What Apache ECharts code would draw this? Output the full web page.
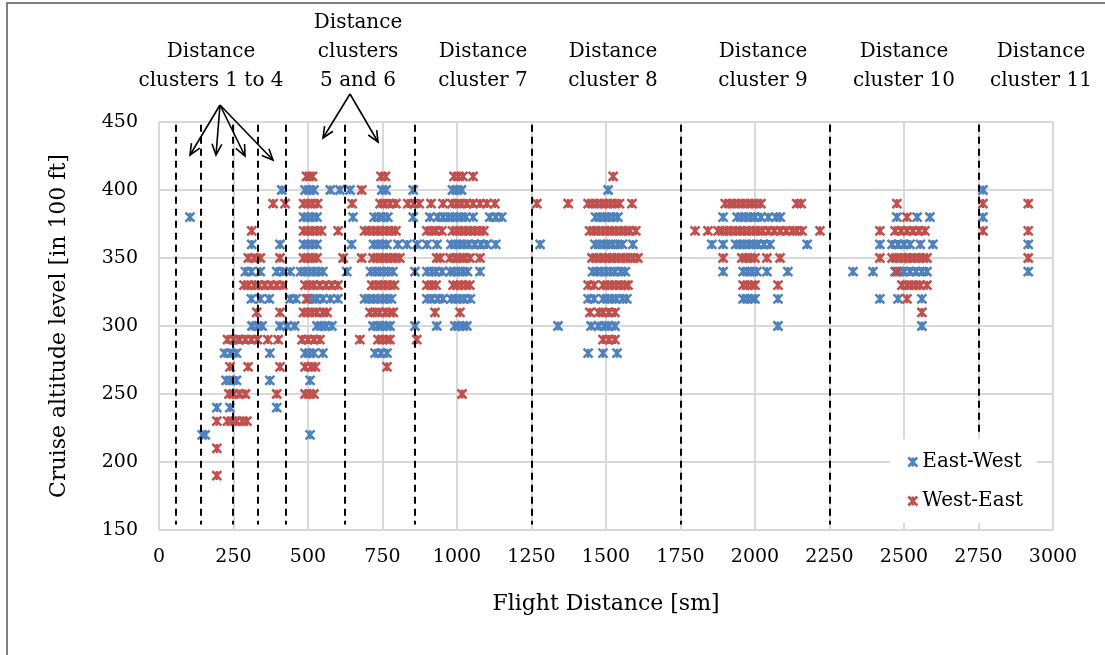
<!DOCTYPE html>
<html>
<head>
<meta charset="utf-8">
<script src="https://cdn.jsdelivr.net/npm/echarts@6/dist/echarts.min.js"></script>
<style>
  html, body { margin: 0; padding: 0; background: #fff; }
  #chart { width: 1105px; height: 655px; }
</style>
</head>
<body>
<div id="chart"></div>
<script>
// flight level (in 100 ft) -> flight distances (sm) seen on that level
const eastWestRows = [
  [400, [412, 490, 505, 520, 575, 607, 641, 748, 762, 853, 985, 1000, 1015, 1507, 2765]],
  [380, [104, 485, 500, 515, 530, 651, 722, 738, 752, 768, 853, 909, 935, 953, 970, 985, 1000, 1015, 1030, 1054, 1110, 1130, 1150, 1465, 1480, 1495, 1510, 1525, 1540, 1893, 1940, 1955, 1970, 1985, 2000, 2020, 2045, 2070, 2085, 2476, 2544, 2587, 2765]],
  [360, [311, 406, 485, 500, 515, 530, 646, 720, 735, 750, 765, 802, 832, 866, 899, 933, 980, 995, 1010, 1025, 1040, 1060, 1080, 1100, 1130, 1279, 1463, 1478, 1493, 1508, 1523, 1540, 1555, 1590, 1855, 1893, 1935, 1950, 1965, 1980, 1995, 2010, 2030, 2050, 2175, 2419, 2460, 2480, 2500, 2520, 2555, 2597, 2917]],
  [340, [290, 310, 340, 395, 415, 440, 475, 490, 505, 520, 535, 550, 630, 710, 725, 740, 755, 770, 785, 859, 899, 915, 930, 950, 977, 990, 1005, 1020, 1035, 1077, 1455, 1470, 1485, 1500, 1515, 1530, 1550, 1565, 1893, 1960, 1975, 1990, 2006, 2040, 2110, 2329, 2396, 2470, 2485, 2500, 2520, 2540, 2560, 2577, 2917]],
  [320, [310, 340, 370, 440, 460, 500, 515, 530, 550, 575, 600, 690, 705, 720, 735, 750, 765, 780, 899, 915, 935, 953, 980, 995, 1010, 1025, 1045, 1440, 1460, 1490, 1505, 1520, 1535, 1555, 1570, 1960, 1975, 1990, 2000, 2077, 2419, 2480, 2560]],
  [300, [312, 330, 346, 406, 430, 455, 530, 545, 560, 580, 718, 735, 750, 765, 775, 859, 932, 993, 1005, 1020, 1033, 1339, 1450, 1475, 1495, 1510, 1530, 2077, 2560]],
  [290, [266]],
  [280, [220, 240, 260, 372, 490, 505, 520, 550, 725, 745, 765, 1440, 1490, 1537]],
  [260, [225, 240, 260, 372, 507]],
  [240, [194, 238, 395]],
  [220, [145, 155, 507]]
];

const westEastRows = [
  [410, [495, 505, 515, 745, 760, 990, 1005, 1020, 1054, 1524]],
  [400, [680]],
  [390, [383, 423, 485, 500, 515, 532, 648, 742, 758, 775, 795, 835, 855, 873, 913, 953, 983, 1000, 1015, 1033, 1054, 1077, 1100, 1127, 1268, 1373, 1440, 1455, 1470, 1485, 1500, 1515, 1530, 1545, 1587, 1900, 1915, 1930, 1945, 1960, 1975, 1990, 2005, 2020, 2140, 2155, 2476, 2765, 2917]],
  [380, [2510]],
  [370, [311, 485, 500, 515, 530, 545, 601, 690, 705, 720, 735, 750, 765, 780, 795, 899, 915, 930, 949, 985, 1000, 1015, 1030, 1045, 1060, 1075, 1090, 1445, 1460, 1475, 1490, 1505, 1520, 1535, 1550, 1565, 1580, 1600, 1799, 1842, 1876, 1890, 1905, 1920, 1935, 1950, 1965, 1980, 1995, 2010, 2025, 2045, 2065, 2085, 2105, 2125, 2140, 2158, 2218, 2419, 2470, 2490, 2510, 2530, 2550, 2570, 2765, 2917]],
  [350, [300, 320, 340, 406, 485, 500, 515, 530, 618, 680, 718, 733, 748, 763, 778, 793, 808, 932, 943, 977, 995, 1010, 1025, 1043, 1077, 1453, 1468, 1483, 1498, 1513, 1528, 1543, 1558, 1573, 1590, 1607, 1893, 1956, 1970, 1985, 2000, 2040, 2084, 2419, 2460, 2475, 2490, 2505, 2520, 2535, 2550, 2565, 2577, 2917]],
  [340, [2476]],
  [330, [285, 300, 320, 335, 355, 375, 395, 415, 490, 505, 520, 540, 560, 580, 600, 714, 730, 745, 760, 775, 790, 899, 915, 930, 987, 1000, 1015, 1030, 1043, 1440, 1460, 1490, 1505, 1520, 1535, 1550, 1565, 1574, 1960, 1975, 1990, 2000, 2077, 2493, 2510, 2525, 2540, 2555, 2577]],
  [320, [495, 2510]],
  [310, [328, 406, 485, 500, 515, 530, 550, 564, 708, 725, 740, 760, 775, 786, 926, 1010, 1446, 1475, 1490, 1510, 1530, 2560]],
  [290, [230, 250, 270, 290, 310, 330, 365, 400, 480, 500, 520, 540, 674, 735, 750, 765, 775, 865, 1490, 1510, 1530]],
  [270, [238, 299, 406, 490, 510, 525, 765]],
  [250, [235, 250, 270, 290, 395, 490, 505, 520, 1017]],
  [230, [194, 230, 245, 260, 280, 295]],
  [210, [194]],
  [190, [194]]
];

// dashed separators between the distance clusters (sm)
const clusterBounds = [57, 141, 248, 332, 426, 624, 859, 1250, 1750, 2250, 2750];

// cluster captions above the plot: [text, centre x px]
const clusterLabels = [
  ['Distance\nclusters 1 to 4', 211],
  ['Distance\nclusters\n5 and 6', 358],
  ['Distance\ncluster 7', 483],
  ['Distance\ncluster 8', 613],
  ['Distance\ncluster 9', 763],
  ['Distance\ncluster 10', 904],
  ['Distance\ncluster 11', 1041]
];

const FONT = 'DejaVu Serif';
const BLUE = '#4f81bd';
const RED = '#c0504d';
const STAR = 'path://M0,0L10,10M10,0L0,10M5,0L5,10';

function toPoints(rows) {
  const out = [];
  rows.forEach(function (r) {
    r[1].forEach(function (x) { out.push([x, r[0]]); });
  });
  return out;
}

function arrow(x1, y1, x2, y2) {
  const a = Math.atan2(y2 - y1, x2 - x1);
  const h = 12, w = 0.42;
  const st = { stroke: '#000', lineWidth: 1.6, fill: null };
  return [
    { type: 'line', shape: { x1: x1, y1: y1, x2: x2, y2: y2 }, style: st, z: 10 },
    {
      type: 'polyline',
      shape: {
        points: [
          [x2 - h * Math.cos(a - w), y2 - h * Math.sin(a - w)],
          [x2, y2],
          [x2 - h * Math.cos(a + w), y2 - h * Math.sin(a + w)]
        ]
      },
      style: st, z: 10
    }
  ];
}

const chart = echarts.init(document.getElementById('chart'));

// outer frame: only top and left edges fall inside the picture
let graphics = [
  {
    type: 'rect', z: 0,
    shape: { x: 7, y: 3, width: 1300, height: 800 },
    style: { fill: null, stroke: '#808080', lineWidth: 2 }
  }
];
clusterLabels.forEach(function (c) {
  graphics.push({
    type: 'text', x: c[1], y: 95, z: 10,
    style: {
      text: c[0], font: '20px "' + FONT + '"', fill: '#000',
      textAlign: 'center', textVerticalAlign: 'bottom', lineHeight: 29
    }
  });
});
[[190, 155], [216, 155], [245, 156], [273, 160]].forEach(function (p) {
  graphics = graphics.concat(arrow(220, 105, p[0], p[1]));
});
[[323, 138], [378, 142]].forEach(function (p) {
  graphics = graphics.concat(arrow(350, 94, p[0], p[1]));
});

const starStyle = function (c) {
  return { color: c, borderColor: c, borderWidth: 2.6, opacity: 1 };
};

const option = {
  animation: false,
  backgroundColor: '#fff',
  grid: { left: 159, right: 52, top: 122, bottom: 125 },
  textStyle: { fontFamily: FONT, color: '#000' },
  legend: {
    left: 890, top: 439, orient: 'vertical',
    backgroundColor: '#fff',
    padding: [13, 14, 12, 17],
    itemGap: 19, itemWidth: 9, itemHeight: 9,
    textStyle: { fontFamily: FONT, fontSize: 20, color: '#000' },
    data: [
      { name: 'East-West', icon: STAR, itemStyle: starStyle(BLUE) },
      { name: 'West-East', icon: STAR, itemStyle: starStyle(RED) }
    ]
  },
  xAxis: {
    type: 'value', min: 0, max: 3000, interval: 250,
    name: 'Flight Distance [sm]', nameLocation: 'middle', nameGap: 63,
    nameTextStyle: { fontFamily: FONT, fontSize: 22, color: '#000' },
    axisLine: { show: true, lineStyle: { color: '#d9d9d9', width: 2 } },
    axisTick: { show: false },
    axisLabel: {
      margin: 18, fontFamily: FONT, fontSize: 19, color: '#000',
      formatter: function (v) { return String(v); }
    },
    splitLine: { show: true, lineStyle: { color: '#d9d9d9', width: 2 } }
  },
  yAxis: {
    type: 'value', min: 150, max: 450, interval: 50,
    name: 'Cruise altitude level [in 100 ft]', nameLocation: 'middle', nameGap: 89,
    nameTextStyle: { fontFamily: FONT, fontSize: 22, color: '#000' },
    axisLine: { show: true, lineStyle: { color: '#d9d9d9', width: 2 } },
    axisTick: { show: false },
    axisLabel: { margin: 21, fontFamily: FONT, fontSize: 19, color: '#000' },
    splitLine: { show: true, lineStyle: { color: '#d9d9d9', width: 2 } }
  },
  series: [
    {
      name: 'East-West', type: 'scatter', symbol: STAR, symbolSize: 9,
      itemStyle: starStyle(BLUE),
      data: toPoints(eastWestRows)
    },
    {
      name: 'West-East', type: 'scatter', symbol: STAR, symbolSize: 9,
      itemStyle: starStyle(RED),
      data: toPoints(westEastRows)
    },
    {
      name: 'bounds', type: 'scatter', data: [], z: 5, silent: true,
      markLine: {
        silent: true, symbol: ['none', 'none'],
        label: { show: false },
        lineStyle: { color: '#000', type: [7, 5], width: 2 },
        data: clusterBounds.map(function (b) {
          const bottom = b === 2750 ? 222 : 154;
          return [{ coord: [b, 448] }, { coord: [b, bottom] }];
        })
      }
    }
  ],
  graphic: graphics
};

chart.setOption(option);
</script>
</body>
</html>
